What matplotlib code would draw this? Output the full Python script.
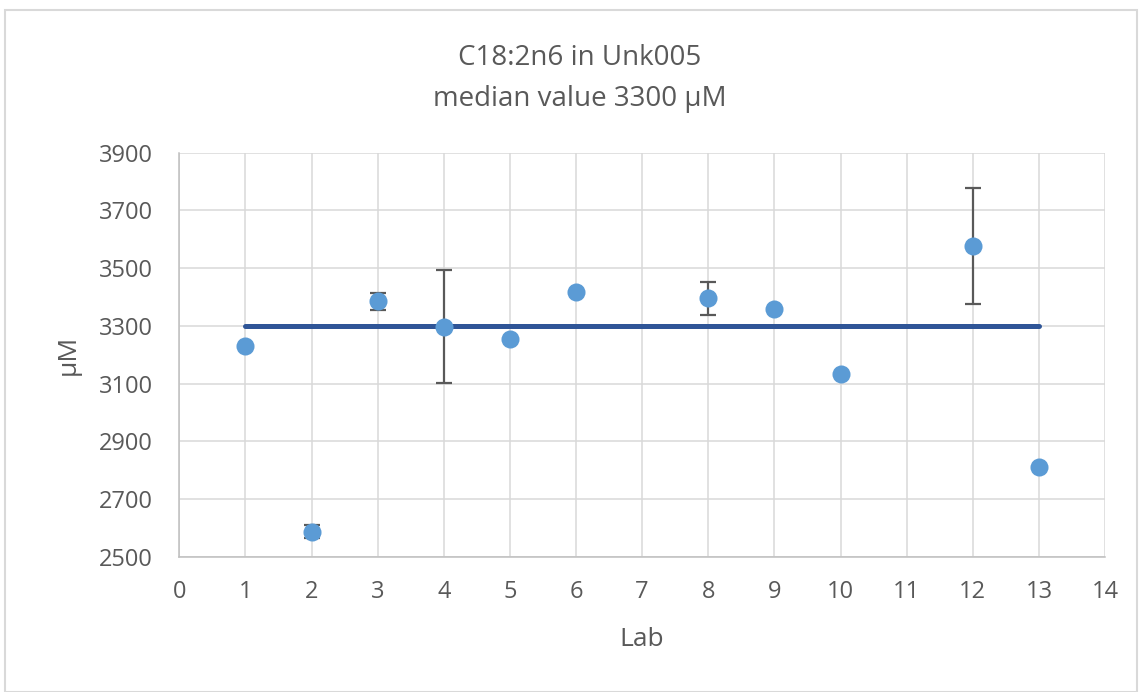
import matplotlib
matplotlib.use("Agg")
import matplotlib.pyplot as plt
from matplotlib.patches import Rectangle
import numpy as np

labs = [1, 2, 3, 4, 5, 6, 8, 9, 10, 12, 13]
values = [3231, 2587, 3385, 3297, 3256, 3419, 3395, 3358, 3132, 3576, 2812]
errors = [0, 22, 30, 196, 0, 0, 57, 0, 0, 200, 0]
median_x = [1, 13]
median_value = 3300
title_lines = ["C18:2n6 in Unk005", "median value 3300 µM"]
x_ticks = list(range(0, 15))
y_ticks = [2500, 2700, 2900, 3100, 3300, 3500, 3700, 3900]

plt.rcParams['font.family'] = ['Open Sans', 'DejaVu Sans']
txt = '#595959'

fig = plt.figure(figsize=(11.43, 6.92), dpi=100)
fig.patches.append(Rectangle((4.5/1143, 0), (1137-4.5)/1143, (692-10)/692,
                             transform=fig.transFigure, fill=False,
                             edgecolor='#D9D9D9', linewidth=1.5))
ax = fig.add_axes([179.3/1143, (692-556.7)/692, (1105-179.3)/1143, (556.7-152.7)/692])

ax.set_xlim(0, 14)
ax.set_ylim(2500, 3900)
ax.set_xticks(x_ticks)
ax.set_yticks(y_ticks)
ax.grid(True, color='#D9D9D9', linewidth=1.1, zorder=0)
ax.set_axisbelow(True)
for s in ['top', 'right']:
    ax.spines[s].set_visible(False)
for s in ['left', 'bottom']:
    ax.spines[s].set_color('#BFBFBF')
    ax.spines[s].set_linewidth(1.1)
ax.tick_params(length=0, labelsize=17, labelcolor=txt)
ax.tick_params(axis='y', pad=19)
ax.tick_params(axis='x', pad=17)

ax.plot(median_x, [median_value, median_value], color='#2F5597', linewidth=3.6,
        solid_capstyle='round', zorder=2)

lx = np.array(labs)
lv = np.array(values)
le = np.array(errors)
m = le > 0
ax.errorbar(lx[m], lv[m], yerr=le[m], fmt='none', ecolor='#595959',
            elinewidth=1.6, capsize=5.5, capthick=1.6, zorder=3)
ax.plot(lx, lv, 'o', color='#5B9BD5', markersize=13, markeredgewidth=0, zorder=4)

fig.text(642/1143, 1 - 640/692, 'Lab', ha='center', va='center', fontsize=19, color=txt)
fig.text(68/1143, 1 - 355/692, 'µM', ha='center', va='center', fontsize=19, color=txt,
         rotation=90)

fig.text(580/1143, 1 - 58/692, title_lines[0], ha='center', va='center', fontsize=20, color=txt)
fig.text(580/1143, 1 - 99/692, title_lines[1], ha='center', va='center', fontsize=20, color=txt)

fig.savefig('out.png', dpi=100)
